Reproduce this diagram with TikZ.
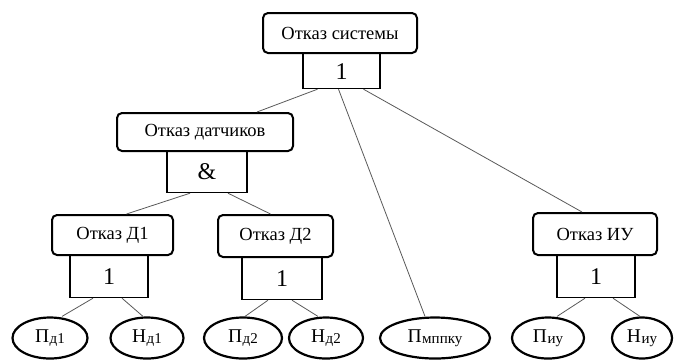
\documentclass[tikz,border=0pt]{standalone}
\usepackage{fontspec}
\setmainfont{Liberation Serif}
\usetikzlibrary{shapes.geometric}
\newcommand\lowtxt[1]{\kern0.5pt\raisebox{-0.15ex}{\fontsize{15}{16}\selectfont #1}}
\tikzset{
  evt/.style={draw=black, line width=2pt, rounded corners=5pt, font=\fontsize{18.5}{20}\selectfont, inner sep=0pt},
  gate/.style={draw=black, line width=1.2pt, font=\fontsize{24}{26}\selectfont, inner sep=0pt},
  leaf/.style={draw=black, ellipse, line width=2.2pt, font=\fontsize{19.5}{21}\selectfont, inner sep=0pt},
  conn/.style={draw=black!65, line width=0.8pt}
}
\begin{document}
\begin{tikzpicture}[x=1pt, y=-1pt]
\useasboundingbox (0,0) rectangle (676,360);
% top
\node[evt, minimum width=154pt, minimum height=40pt] (sys) at (340,33) {Отказ системы};
\node[gate, minimum width=77pt, minimum height=35pt, anchor=north] (g0) at (341.5,53) {1};
% sensors
\node[evt, minimum width=176pt, minimum height=38pt] (sen) at (205,132) {Отказ датчиков};
\node[gate, minimum width=80pt, minimum height=41pt, anchor=north] (g1) at (207,151) {\&};
% D1
\node[evt, minimum width=121pt, minimum height=40pt] (d1) at (112.5,235) {Отказ Д1};
\node[gate, minimum width=78pt, minimum height=42pt, anchor=north] (g2) at (109,255) {1};
% D2
\node[evt, minimum width=115pt, minimum height=42pt] (d2) at (275.5,236) {Отказ Д2};
\node[gate, minimum width=80pt, minimum height=42pt, anchor=north] (g3) at (282,257) {1};
% IU
\node[evt, minimum width=124pt, minimum height=42pt] (iu) at (595,234) {Отказ ИУ};
\node[gate, minimum width=78pt, minimum height=42pt, anchor=north] (g4) at (596,255) {1};
% leaves
\node[leaf, minimum width=75pt, minimum height=41pt] (pd1) at (50,338) {П\lowtxt{д1}};
\node[leaf, minimum width=73pt, minimum height=41pt] (nd1) at (147,338) {Н\lowtxt{д1}};
\node[leaf, minimum width=78pt, minimum height=41pt] (pd2) at (243,338) {П\lowtxt{д2}};
\node[leaf, minimum width=74pt, minimum height=41pt] (nd2) at (326,338) {Н\lowtxt{д2}};
\node[leaf, minimum width=110pt, minimum height=41pt] (pm) at (435,338) {П\lowtxt{мппку}};
\node[leaf, minimum width=72pt, minimum height=41pt] (piu) at (548,338) {П\lowtxt{иу}};
\node[leaf, minimum width=60pt, minimum height=41pt] (niu) at (642,338) {Н\lowtxt{иу}};
% connectors
\draw[conn] ([xshift=-24pt]g0.south) -- ([xshift=52pt]sen.north);
\draw[conn] ([xshift=-3pt]g0.south) -- ([xshift=-10pt]pm.north);
\draw[conn] ([xshift=22pt]g0.south) -- ([xshift=-13pt]iu.north);
\draw[conn] ([xshift=-17pt]g1.south) -- ([xshift=14pt]d1.north);
\draw[conn] ([xshift=21pt]g1.south) -- ([xshift=-5pt]d2.north);
\draw[conn] ([xshift=-16pt]g2.south) -- ([xshift=12pt]pd1.north);
\draw[conn] ([xshift=13pt]g2.south) -- ([xshift=-4pt]nd1.north);
\draw[conn] ([xshift=-14pt]g3.south) -- ([xshift=2pt]pd2.north);
\draw[conn] ([xshift=10pt]g3.south) -- ([xshift=-8pt]nd2.north);
\draw[conn] ([xshift=-11pt]g4.south) -- ([xshift=9pt]piu.north);
\draw[conn] ([xshift=17pt]g4.south) -- ([xshift=-2pt]niu.north);
\end{tikzpicture}
\end{document}
